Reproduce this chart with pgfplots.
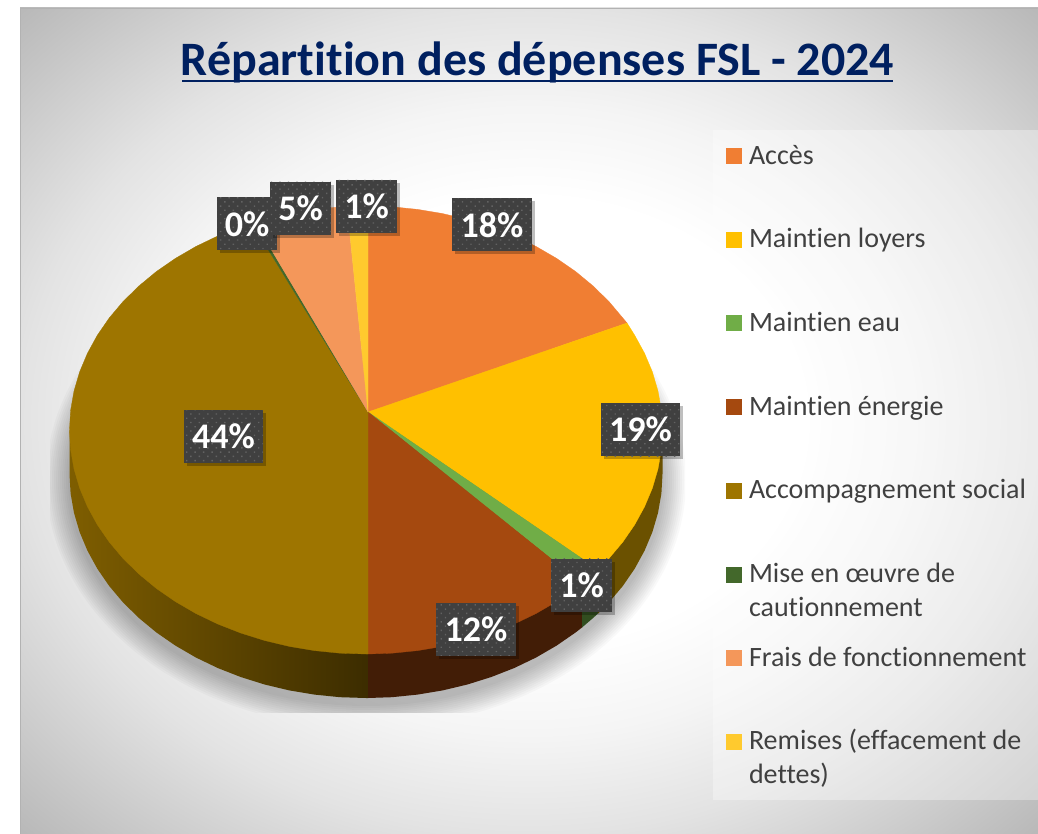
\documentclass[border=0pt]{standalone}
\usepackage{fontspec}
\setmainfont[Ligatures=CommonOff]{Carlito}
\usepackage{pgfplots}
\pgfplotsset{compat=1.18}
\usetikzlibrary{patterns.meta,shadows}
\definecolor{cOrange}{HTML}{F07E33}
\definecolor{cYellow}{HTML}{FFC000}
\definecolor{cGreen}{HTML}{70AD47}
\definecolor{cBrown}{HTML}{A5490F}
\definecolor{cOlive}{HTML}{9E7500}
\definecolor{cDkGreen}{HTML}{43682B}
\definecolor{cLtOrange}{HTML}{F4975A}
\definecolor{cGold}{HTML}{FFCA2E}
\definecolor{cTitle}{HTML}{002060}
\definecolor{cText}{HTML}{404040}
\definecolor{cBox}{HTML}{404040}
\definecolor{cDot}{HTML}{626262}
\pgfdeclareradialshading{bgshade}{\pgfpointorigin}{
  color(0bp)=(white);
  color(13.5bp)=(white);
  color(19bp)=(rgb:white,96;black,4);
  color(25bp)=(rgb:white,89;black,11);
  color(30bp)=(rgb:white,81;black,19);
  color(35.5bp)=(rgb:white,72;black,28);
  color(50bp)=(rgb:white,72;black,28)}
\tikzset{lab/.style={fill=cBox,postaction={pattern={Dots[distance=6pt,angle=45,radius=.95pt]},pattern color=cDot},
  text=white,inner sep=0pt,minimum height=53pt,font=\fontsize{36}{40}\selectfont\bfseries,
  drop shadow={shadow xshift=3pt,shadow yshift=-3pt,opacity=.25,fill=black}}}
\newcommand{\legtxt}[1]{\parbox[t]{290pt}{#1}}
\begin{document}
\begin{tikzpicture}[x=1pt,y=1pt]
\useasboundingbox (0,0) rectangle (1038,834);
% background
\shade[shading=bgshade] (20,0) rectangle (1038,826);
\draw[color=black!30,line width=1pt] (20.5,0) -- (20.5,825.5) -- (1038,825.5);
% legend panel
\fill[white,opacity=.33] (713,34) rectangle (1038,704);
% shadow under the pie
\begin{scope}
\clip (50,121) rectangle (685,484);
\foreach \r in {2,4,...,24}{
  \fill[black,opacity=.022] (366,354) ellipse [x radius={296+\r},y radius={224+\r}];
}
\end{scope}
\begin{axis}[
  at={(0,0)},anchor=south west,scale only axis,width=1038pt,height=834pt,
  xmin=0,xmax=1038,ymin=0,ymax=834,y dir=reverse,hide axis,clip=false,
  legend image code/.code={\fill[#1,draw=none] (0pt,0pt) rectangle (16pt,16pt);},
  legend style={at={(axis cs:726,131)},anchor=north west,draw=none,fill=none,
    inner sep=0pt,outer sep=0pt,row sep=0pt,
    nodes={inner sep=0pt,outer sep=0pt,text height=33pt,text depth=50.7pt},
    cells={anchor=base west},
    /tikz/column 1/.style={column sep=7pt},
    font=\fontsize{28}{34}\selectfont,text=cText},
]
% sides
\addplot[forget plot,draw=none,left color=cOlive!80!black,right color=cOlive!38!black] coordinates {
 (69.5,430)(69.5,474)(70.6,493.5)(74,512.9)(79.6,532)(87.4,550.6)(97.3,568.7)(109.2,586)(123.1,602.5)(138.9,618)(156.3,632.4)(175.4,645.6)(195.9,657.5)(217.7,668)(240.7,677)(264.6,684.5)(289.3,690.4)(314.5,694.6)(340.1,697.2)(366,698)(368,698)(368,430)} -- cycle;
\addplot[forget plot,draw=none,fill=cBrown!40!black] coordinates {
 (368,430)(368,698)(391.9,697.2)(417.5,694.6)(442.7,690.4)(467.4,684.5)(491.3,677)(514.3,668)(536.1,657.5)(556.6,645.6)(575.7,632.4)(582,627.5)(582,430)} -- cycle;
\addplot[forget plot,draw=none,fill=cGreen!45!black] coordinates {
 (582,430)(582,627.5)(593.1,618)(598,613.5)(598,430)} -- cycle;
\addplot[forget plot,draw=none,fill=cYellow!42!black] coordinates {
 (598,430)(598,613.5)(608.9,602.5)(622.8,586)(634.7,568.7)(644.6,550.6)(652.4,532)(658,512.9)(661.4,493.5)(662.5,474)(662.5,430)} -- cycle;
% top faces
\addplot[fill=cOrange,draw=cOrange,line width=.3pt] coordinates {
 (368,412)(368,206)(391.9,206.8)(417.5,209.4)(442.7,213.6)(467.4,219.5)(491.3,227)(514.3,236)(536.1,246.5)(556.6,258.4)(575.7,271.6)(593.1,286)(608.9,301.5)(622.8,318)(627,323)} -- cycle;
\addlegendentry{\legtxt{Accès}}
\addplot[fill=cYellow,draw=cYellow,line width=.3pt] coordinates {
 (368,412)(627,323)(634.7,335.3)(644.6,353.4)(652.4,372)(658,391.1)(661.4,410.5)(662.5,430)(661.4,449.5)(658,468.9)(652.4,488)(644.6,506.6)(634.7,524.7)(622.8,542)(608.9,558.5)(598,569.5)} -- cycle;
\addlegendentry{\legtxt{Maintien loyers}}
\addplot[fill=cGreen,draw=cGreen,line width=.3pt] coordinates {
 (368,412)(598,569.5)(593.1,574)(582,583.5)} -- cycle;
\addlegendentry{\legtxt{Maintien eau}}
\addplot[fill=cBrown,draw=cBrown,line width=.3pt] coordinates {
 (368,412)(582,583.5)(575.7,588.4)(556.6,601.6)(536.1,613.5)(514.3,624)(491.3,633)(467.4,640.5)(442.7,646.4)(417.5,650.6)(391.9,653.2)(368,654)} -- cycle;
\addlegendentry{\legtxt{Maintien énergie}}
\addplot[fill=cOlive,draw=cOlive,line width=.3pt] coordinates {
 (368,412)(368,654)(366,654)(340.1,653.2)(314.5,650.6)(289.3,646.4)(264.6,640.5)(240.7,633)(217.7,624)(195.9,613.5)(175.4,601.6)(156.3,588.4)(138.9,574)(123.1,558.5)(109.2,542)(97.3,524.7)(87.4,506.6)(79.6,488)(74,468.9)(70.6,449.5)(69.5,430)(70.6,410.5)(74,391.1)(79.6,372)(87.4,353.4)(97.3,335.3)(109.2,318)(123.1,301.5)(138.9,286)(156.3,271.6)(175.4,258.4)(195.9,246.5)(217.7,236)(240.7,227)(252,223.3)} -- cycle;
\addlegendentry{\legtxt{Accompagnement social}}
\addplot[fill=cDkGreen,draw=cDkGreen,line width=.3pt] coordinates {
 (368,412)(252,223.3)(255,222.3)} -- cycle;
\addlegendentry{\legtxt{Mise en œuvre de\\cautionnement}}
\addplot[fill=cLtOrange,draw=cLtOrange,line width=.3pt] coordinates {
 (368,412)(255,222.3)(264.6,219.5)(289.3,213.6)(314.5,209.4)(340.1,206.8)(347,206.5)} -- cycle;
\addlegendentry{\legtxt{Frais de fonctionnement}}
\addplot[fill=cGold,draw=cGold,line width=.3pt] coordinates {
 (368,412)(347,206.5)(366,206)(368,206)} -- cycle;
\addlegendentry{\legtxt{Remises (effacement de\\dettes)}}
% data labels
\node[lab,minimum width=60pt] at (axis cs:247,224) {0\%};
\node[lab,minimum width=61pt] at (axis cs:300.5,208.5) {5\%};
\node[lab,minimum width=61pt] at (axis cs:366.5,206.5) {1\%};
\node[lab,minimum width=80pt] at (axis cs:492,225) {18\%};
\node[lab,minimum width=79pt] at (axis cs:640.5,429.5) {19\%};
\node[lab,minimum width=79pt] at (axis cs:223.5,436.5) {44\%};
\node[lab,minimum width=80pt] at (axis cs:476,629) {12\%};
\node[lab,minimum width=61pt] at (axis cs:581.5,585) {1\%};
% title
\node[anchor=base,text=cTitle,font=\fontsize{48}{52}\selectfont\bfseries,inner sep=0pt] at (axis cs:537.5,76) {Répartition des dépenses FSL - 2024};
\draw[cTitle,line width=2.8pt] (axis cs:182,81) -- (axis cs:893,81);
\end{axis}
\end{tikzpicture}
\end{document}
